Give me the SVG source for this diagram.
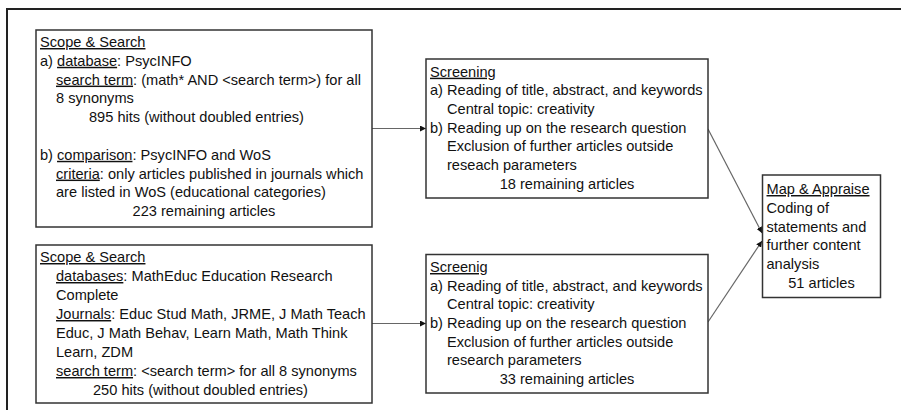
<svg xmlns="http://www.w3.org/2000/svg" width="901" height="410" viewBox="0 0 901 410">
<defs>
<marker id="ah" viewBox="0 0 10 10" refX="10" refY="5" markerWidth="6" markerHeight="6" markerUnits="userSpaceOnUse" orient="auto">
<path d="M0,0 L10,5 L0,10 z" fill="#111"/>
</marker>
<style>
text{font-family:"Liberation Sans",Arial,sans-serif;font-size:14.6px;fill:#111}
.u{text-decoration:underline}
.box{fill:#fff;stroke:#333;stroke-width:1.5}
.c{fill:none;stroke:#666;stroke-width:1.2;marker-end:url(#ah)}
.m{text-anchor:middle}
</style>
</defs>
<rect width="901" height="410" fill="#fff"/>
<path d="M7,410 V9 H901" fill="none" stroke="#222" stroke-width="2"/>
<g id="connectors">
<line class="c" x1="372" y1="128.5" x2="426" y2="128.5"/>
<line class="c" x1="372" y1="323.5" x2="426" y2="323.5"/>
<line class="c" x1="708" y1="129" x2="762" y2="233"/>
<line class="c" x1="708" y1="322" x2="762" y2="241"/>
</g>
<g id="scope1">
<rect class="box" x="36" y="30" width="336" height="197"/>
<text x="40" y="47"><tspan class="u">Scope &amp; Search</tspan></text>
<text x="40" y="65.8">a) <tspan class="u">database</tspan>: PsycINFO</text>
<text x="56" y="84.6"><tspan class="u">search term</tspan>: (math* AND &lt;search term&gt;) for all</text>
<text x="56" y="103.4">8 synonyms</text>
<text x="89" y="122.2">895 hits (without doubled entries)</text>
<text x="40" y="159.8">b) <tspan class="u">comparison</tspan>: PsycINFO and WoS</text>
<text x="56" y="178.6"><tspan class="u">criteria</tspan>: only articles published in journals which</text>
<text x="56" y="197.4">are listed in WoS (educational categories)</text>
<text class="m" x="204" y="216.2">223 remaining articles</text>
</g>
<g id="scope2">
<rect class="box" x="36" y="245" width="336" height="158"/>
<text x="40" y="262"><tspan class="u">Scope &amp; Search</tspan></text>
<text x="56" y="281"><tspan class="u">databases</tspan>: MathEduc Education Research</text>
<text x="56" y="300">Complete</text>
<text x="56" y="319"><tspan class="u">Journals</tspan>: Educ Stud Math, JRME, J Math Teach</text>
<text x="56" y="338">Educ, J Math Behav, Learn Math, Math Think</text>
<text x="56" y="357">Learn, ZDM</text>
<text x="56" y="376"><tspan class="u">search term</tspan>: &lt;search term&gt; for all 8 synonyms</text>
<text x="93" y="395">250 hits (without doubled entries)</text>
</g>
<g id="screening1">
<rect class="box" x="426" y="59" width="282" height="139"/>
<text x="430" y="76.7"><tspan class="u">Screening</tspan></text>
<text x="430" y="95.3">a) Reading of title, abstract, and keywords</text>
<text x="447" y="114">Central topic: creativity</text>
<text x="430" y="132.7">b) Reading up on the research question</text>
<text x="447" y="151.3">Exclusion of further articles outside</text>
<text x="447" y="170">reseach parameters</text>
<text class="m" x="567" y="188.7">18 remaining articles</text>
</g>
<g id="screening2">
<rect class="box" x="426" y="254.5" width="282" height="138.5"/>
<text x="430" y="272"><tspan class="u">Screenig</tspan></text>
<text x="430" y="290.7">a) Reading of title, abstract, and keywords</text>
<text x="447" y="309.3">Central topic: creativity</text>
<text x="430" y="328">b) Reading up on the research question</text>
<text x="447" y="346.7">Exclusion of further articles outside</text>
<text x="447" y="365.3">research parameters</text>
<text class="m" x="567" y="384">33 remaining articles</text>
</g>
<g id="map">
<rect class="box" x="762.5" y="175" width="118" height="122.5"/>
<text x="766.5" y="194"><tspan class="u">Map &amp; Appraise</tspan></text>
<text x="766.5" y="212.8">Coding of</text>
<text x="766.5" y="231.6">statements and</text>
<text x="766.5" y="250.4">further content</text>
<text x="766.5" y="269.2">analysis</text>
<text class="m" x="821.5" y="288">51 articles</text>
</g>
</svg>
